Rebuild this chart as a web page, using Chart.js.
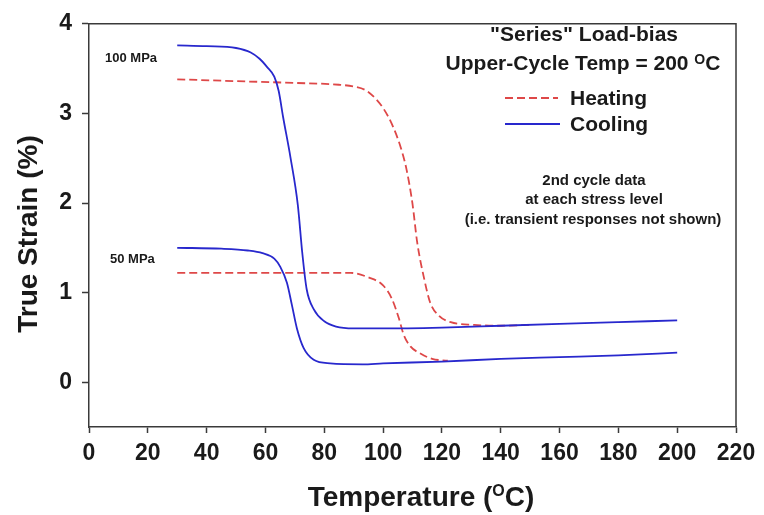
<!DOCTYPE html>
<html>
<head>
<meta charset="utf-8">
<title>True strain vs temperature</title>
<script src="https://cdn.jsdelivr.net/npm/chart.js@4.4.1/dist/chart.umd.min.js"></script>
<style>
    html, body { margin: 0; padding: 0; background: #ffffff; }
    #mycanvas { display: block; }
</style>
</head>
<body>
<canvas id="mycanvas" width="764" height="515"></canvas>
<script>
// temperature (°C) / true strain (%) for each branch, 2nd cycle
const cool100Temp = [30, 40, 50, 55, 58, 60.5, 63, 64.5, 66, 68.5, 71, 72.5, 74, 76.5, 80, 84, 90, 100, 120, 140, 160, 180, 200];
const cool100Strain = [3.76, 3.75, 3.73, 3.68, 3.61, 3.52, 3.41, 3.25, 2.96, 2.51, 1.98, 1.45, 1.04, 0.81, 0.68, 0.62, 0.60, 0.60, 0.61, 0.63, 0.65, 0.67, 0.69];

const cool50Temp = [30, 45, 54, 59, 63, 65, 67.3, 69, 70.7, 73, 76.4, 82, 93, 100, 120, 140, 160, 180, 200];
const cool50Strain = [1.50, 1.49, 1.47, 1.44, 1.38, 1.29, 1.11, 0.86, 0.60, 0.38, 0.25, 0.21, 0.20, 0.21, 0.23, 0.26, 0.28, 0.30, 0.33];

const heat100Temp = [30, 50, 70, 85, 90, 94, 97, 100, 103, 106, 108, 110, 111.6, 114, 116, 119, 123, 131, 140, 150];
const heat100Strain = [3.38, 3.36, 3.34, 3.32, 3.30, 3.26, 3.18, 3.06, 2.88, 2.62, 2.37, 1.99, 1.56, 1.15, 0.89, 0.74, 0.67, 0.64, 0.63, 0.64];

const heat50Temp = [30, 60, 89, 95, 100, 103, 105.4, 107, 109.3, 112.7, 116.7, 122];
const heat50Strain = [1.22, 1.22, 1.22, 1.17, 1.08, 0.93, 0.71, 0.53, 0.40, 0.32, 0.26, 0.24];

const xTicks = [0, 20, 40, 60, 80, 100, 120, 140, 160, 180, 200, 220];
const yTicks = [0, 1, 2, 3, 4];

const coolColor = 'rgb(40, 40, 205)';
const heatColor = 'rgb(222, 72, 72)';
const axisColor = '#3a3a3a';
const textColor = '#1a1a1a';
const fontFamily = '"Liberation Sans", Arial, sans-serif';

const toPoints = (xs, ys) => xs.map((x, i) => ({ x: x, y: ys[i] }));

function lineSet(label, temps, strains, color, dashed) {
    return {
        label: label,
        data: toPoints(temps, strains),
        borderColor: color,
        backgroundColor: color,
        borderWidth: 1.8,
        borderDash: dashed ? [8, 4] : [],
        pointRadius: 0,
        pointHoverRadius: 0,
        fill: false,
        cubicInterpolationMode: 'monotone'
    };
}

// writes text made of a main part, a raised small "O" and a tail, centred on cx
function textWithDegree(ctx, head, tail, cx, y, mainFont, supFont, rise) {
    ctx.font = mainFont;
    const wHead = ctx.measureText(head).width;
    const wTail = ctx.measureText(tail).width;
    ctx.font = supFont;
    const wO = ctx.measureText('O').width;
    const x0 = cx - (wHead + wO + wTail) / 2;
    ctx.textAlign = 'left';
    ctx.font = mainFont;
    ctx.fillText(head, x0, y);
    ctx.font = supFont;
    ctx.fillText('O', x0 + wHead, y - rise);
    ctx.font = mainFont;
    ctx.fillText(tail, x0 + wHead + wO, y);
}

// frame, axis titles and the text block in the upper right
const annotations = {
    id: 'annotations',
    afterDraw: chart => {
        const { ctx, chartArea } = chart;
        ctx.save();

        // top and right edges of the box
        ctx.strokeStyle = axisColor;
        ctx.lineWidth = 1.5;
        ctx.beginPath();
        ctx.moveTo(chartArea.left, chartArea.top);
        ctx.lineTo(chartArea.right, chartArea.top);
        ctx.lineTo(chartArea.right, chartArea.bottom);
        ctx.stroke();

        ctx.fillStyle = textColor;
        ctx.textBaseline = 'alphabetic';

        const bigFont = 'bold 28px ' + fontFamily;

        // x title
        textWithDegree(ctx, 'Temperature (', 'C)', 421, 506, bigFont, 'bold 16px ' + fontFamily, 10);

        // y title
        ctx.save();
        ctx.translate(37, 234);
        ctx.rotate(-Math.PI / 2);
        ctx.textAlign = 'center';
        ctx.font = bigFont;
        ctx.fillText('True Strain (%)', 0, 0);
        ctx.restore();

        // stress level labels
        ctx.textAlign = 'left';
        ctx.font = 'bold 13px ' + fontFamily;
        ctx.fillText('100 MPa', 105, 62);
        ctx.fillText('50 MPa', 110, 263);

        // header lines
        ctx.textAlign = 'center';
        ctx.font = 'bold 21px ' + fontFamily;
        ctx.fillText('"Series" Load-bias', 584, 41);
        textWithDegree(ctx, 'Upper-Cycle Temp = 200 ', 'C', 583, 70,
            'bold 21px ' + fontFamily, 'bold 14px ' + fontFamily, 6);

        // key
        ctx.lineWidth = 1.8;
        ctx.strokeStyle = heatColor;
        ctx.setLineDash([8, 4]);
        ctx.beginPath();
        ctx.moveTo(505, 98);
        ctx.lineTo(558, 98);
        ctx.stroke();
        ctx.setLineDash([]);
        ctx.strokeStyle = coolColor;
        ctx.beginPath();
        ctx.moveTo(505, 124);
        ctx.lineTo(560, 124);
        ctx.stroke();
        ctx.textAlign = 'left';
        ctx.font = 'bold 21px ' + fontFamily;
        ctx.fillText('Heating', 570, 105);
        ctx.fillText('Cooling', 570, 131);

        // note
        ctx.textAlign = 'center';
        ctx.font = 'bold 15px ' + fontFamily;
        ctx.fillText('2nd cycle data', 594, 185);
        ctx.fillText('at each stress level', 594, 204);
        ctx.fillText('(i.e. transient responses not shown)', 593, 224);

        ctx.restore();
    }
};

const tickFont = { family: fontFamily, size: 23, weight: 'bold' };

const ctx = document.getElementById('mycanvas').getContext('2d');
const strainChart = new Chart(ctx, {
    type: 'line',
    data: {
        datasets: [
            lineSet('Cooling 100 MPa', cool100Temp, cool100Strain, coolColor, false),
            lineSet('Cooling 50 MPa', cool50Temp, cool50Strain, coolColor, false),
            lineSet('Heating 100 MPa', heat100Temp, heat100Strain, heatColor, true),
            lineSet('Heating 50 MPa', heat50Temp, heat50Strain, heatColor, true)
        ]
    },
    options: {
        responsive: false,
        animation: false,
        devicePixelRatio: 1,
        layout: { padding: { top: 17, right: 28, left: 0, bottom: 0 } },
        plugins: {
            legend: { display: false },
            tooltip: { enabled: false }
        },
        scales: {
            x: {
                type: 'linear',
                min: 0,
                max: 220,
                afterBuildTicks: scale => { scale.ticks = xTicks.map(v => ({ value: v })); },
                afterFit: scale => { scale.height = 88; },
                grid: { drawOnChartArea: false, drawTicks: true, tickLength: 6, tickColor: axisColor, tickWidth: 1.5 },
                border: { display: true, color: axisColor, width: 1.5 },
                ticks: { font: tickFont, color: textColor, padding: 7, maxRotation: 0, autoSkip: false }
            },
            y: {
                type: 'linear',
                min: -0.5,
                max: 4,
                afterBuildTicks: scale => { scale.ticks = yTicks.map(v => ({ value: v })); },
                afterFit: scale => { scale.width = 89; },
                grid: { drawOnChartArea: false, drawTicks: true, tickLength: 7, tickColor: axisColor, tickWidth: 1.5 },
                border: { display: true, color: axisColor, width: 1.5 },
                ticks: { font: tickFont, color: textColor, padding: 10 }
            }
        }
    },
    plugins: [annotations]
});
</script>
</body>
</html>
